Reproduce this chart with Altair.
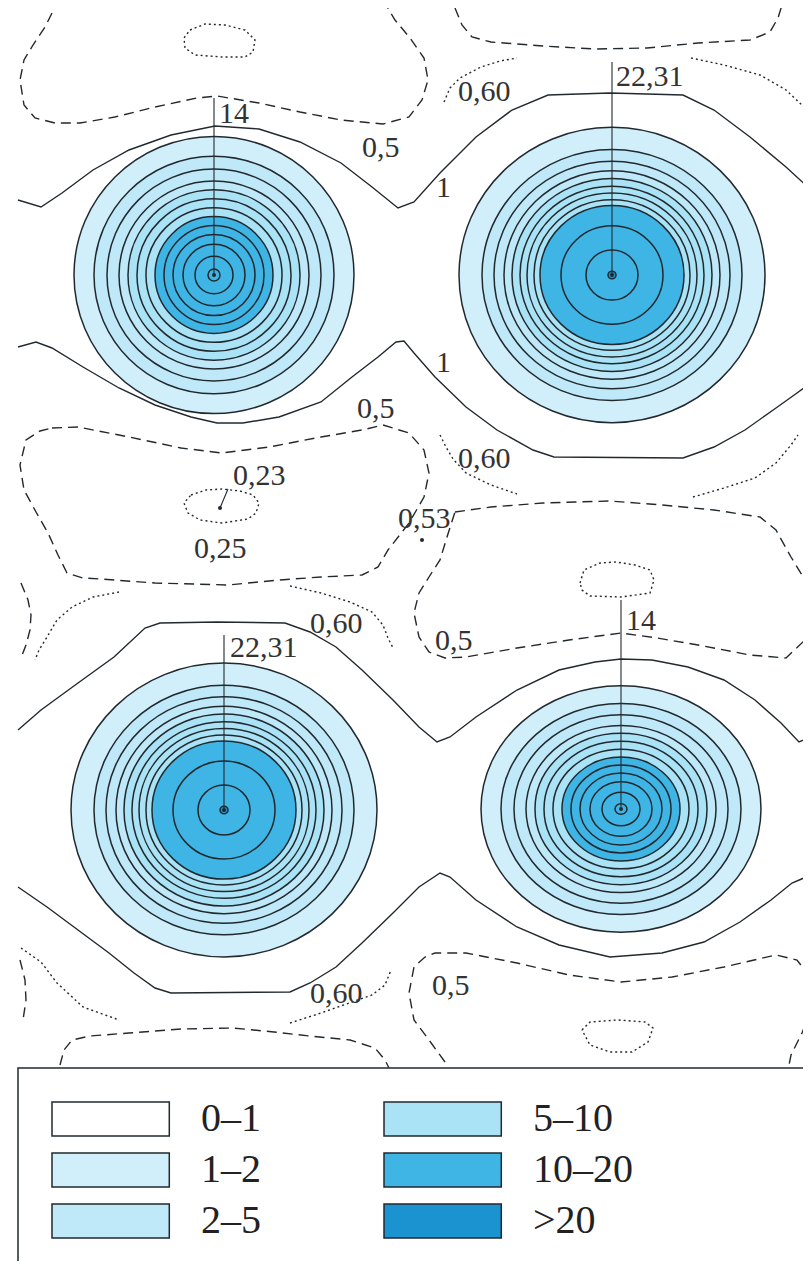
import altair as alt
import pandas as pd

# ---------------- data (picture-pixel units) ----------------
atom_x = [214, 612, 224, 621]
atom_y = [275, 275, 810, 809]
atom_kind = ["14", "22", "22", "14"]
atom_label = ["14", "22,31", "22,31", "14"]
atom_aspect = [0.99, 0.965, 0.96, 0.88]          # vertical / horizontal radius
atom_label_x = [219, 616, 230, 626]
atom_label_y = [123, 86, 657, 630]
atom_leader_top = [98, 62, 635, 600]

rings_14 = [140, 120, 107, 95, 86, 77, 68, 59, 50, 41, 31, 19, 6]
rings_22 = [153, 130, 118, 108, 100, 92, 85, 78, 72, 51, 26, 4]
bands_14 = [("1–2", 140), ("2–5", 120), ("5–10", 86), ("10–20", 59)]
bands_22 = [("1–2", 153), ("2–5", 130), ("5–10", 100), ("10–20", 72), (">20", 4)]

legend_domain = ["0–1", "1–2", "2–5", "5–10", "10–20", ">20"]
legend_colors = ["#ffffff", "#d0effa", "#bfe9f8", "#aae2f6", "#3fb5e6", "#1b93d0"]

solid_lines = {
    "r1top": [(18, 200), (41, 207), (62, 193), (93, 170), (129, 150), (171, 135), (215, 126), (259, 129),
              (300, 142), (341, 163), (372, 187), (398, 208), (414, 202), (440, 173), (476, 137), (512, 110),
              (548, 95), (610, 93), (683, 95), (714, 110), (750, 137), (786, 167), (811, 190)],
    "r1bot": [(18, 347), (36, 342), (52, 348), (83, 367), (119, 388), (155, 405), (191, 417), (217, 423),
              (243, 423), (279, 417), (321, 402), (352, 377), (378, 357), (396, 342), (404, 341), (414, 353),
              (435, 377), (466, 407), (497, 430), (533, 450), (554, 457), (683, 458), (714, 447), (745, 430),
              (776, 408), (797, 393), (811, 383)],
    "r2top": [(18, 730), (41, 710), (78, 683), (114, 657), (145, 628), (160, 623), (217, 622), (285, 623),
              (310, 632), (336, 647), (362, 670), (393, 700), (419, 727), (437, 742), (450, 737), (476, 717),
              (517, 690), (559, 670), (595, 662), (621, 659), (652, 660), (688, 667), (724, 680), (755, 700),
              (781, 723), (799, 742), (811, 737)],
    "r2bot": [(18, 887), (47, 907), (78, 930), (109, 953), (134, 973), (155, 988), (171, 993), (290, 992),
              (310, 983), (336, 967), (362, 943), (393, 913), (419, 887), (440, 873), (450, 877), (476, 900),
              (517, 927), (559, 945), (610, 957), (662, 953), (704, 942), (740, 922), (771, 900), (792, 883),
              (811, 875)],
}

dashed_lines = {
    "d1": [(52, 13), (45, 27), (33, 45), (24, 60), (20, 80), (24, 105), (35, 118), (55, 123), (80, 123),
           (115, 117), (155, 107), (197, 98), (217, 96), (259, 103), (300, 112), (341, 120), (383, 124),
           (409, 117), (422, 100), (428, 80), (424, 58), (410, 38), (395, 20), (386, 5)],
    "d2": [(455, 8), (462, 25), (472, 37), (491, 42), (543, 46), (595, 49), (647, 48), (698, 43), (750, 40),
           (770, 32), (778, 18), (782, 5)],
    "d3": [(52, 428), (78, 427), (129, 437), (181, 448), (222, 453), (269, 447), (321, 437), (362, 430),
           (383, 425), (409, 433), (424, 450), (429, 473), (424, 497), (409, 523), (388, 550), (378, 567),
           (362, 575), (321, 577), (279, 580), (228, 585), (155, 583), (100, 579), (83, 578), (67, 573),
           (58, 555), (48, 533), (36, 512), (24, 490), (20, 465), (26, 440), (40, 431), (52, 428)],
    "d4": [(455, 512), (491, 507), (543, 503), (610, 501), (662, 505), (714, 510), (760, 517), (776, 530),
           (791, 557), (805, 580), (811, 610), (805, 640), (786, 658), (750, 655), (698, 645), (657, 638),
           (621, 633), (569, 640), (517, 648), (466, 657), (445, 658), (429, 652), (419, 637), (414, 613),
           (419, 593), (429, 577), (440, 560), (447, 537), (455, 512)],
    "d5": [(21, 583), (28, 600), (31, 615), (30, 630), (26, 645), (21, 658)],
    "d6": [(60, 1065), (64, 1050), (72, 1040), (90, 1036), (129, 1033), (181, 1029), (233, 1028), (274, 1032),
           (310, 1036), (350, 1040), (375, 1048), (385, 1060), (390, 1070)],
    "d6b": [(20, 960), (25, 980), (26, 1000), (23, 1020)],
    "d7": [(445, 1062), (429, 1040), (414, 1020), (409, 993), (414, 967), (425, 957), (435, 953), (466, 953),
           (517, 963), (569, 975), (621, 982), (672, 977), (724, 967), (776, 955), (797, 960), (807, 973)],
    "d7b": [(811, 1010), (802, 1033), (791, 1055), (788, 1070)],
}

dotted_lines = {
    "p1": [(190, 30), (205, 24), (225, 25), (245, 30), (255, 40), (253, 52), (245, 57), (222, 57), (195, 55),
           (185, 48), (184, 38), (190, 30)],
    "p2": [(444, 102), (450, 88), (460, 78), (481, 67), (500, 61), (517, 58)],
    "p3": [(691, 58), (724, 65), (760, 75), (786, 90), (804, 107), (811, 125)],
    "p4": [(440, 435), (446, 447), (453, 459), (466, 473), (491, 485), (517, 494)],
    "p5": [(693, 497), (724, 488), (755, 478), (776, 463), (791, 445), (798, 435)],
    "p5b": [(811, 440), (806, 455), (805, 475), (809, 495)],
    "p6": [(191, 495), (206, 490), (222, 489), (240, 491), (253, 495), (259, 503), (256, 513), (248, 519),
           (222, 523), (200, 520), (188, 513), (184, 503), (191, 495)],
    "p7": [(580, 583), (584, 570), (600, 563), (616, 562), (635, 565), (650, 570), (654, 580), (650, 593),
           (621, 597), (590, 596), (582, 590), (580, 583)],
    "p8": [(119, 592), (93, 597), (72, 607), (57, 620), (47, 637), (39, 650), (35, 660)],
    "p9": [(290, 586), (321, 593), (350, 602), (372, 612), (383, 625), (388, 638), (393, 648)],
    "p10": [(21, 948), (41, 962), (57, 983), (83, 1007), (119, 1020)],
    "p10b": [(290, 1023), (321, 1013), (352, 1002), (372, 995), (385, 985), (391, 970)],
    "p11": [(582, 1030), (590, 1022), (618, 1020), (645, 1022), (653, 1028), (648, 1042), (632, 1052),
            (610, 1052), (590, 1045), (582, 1030)],
}

map_labels = ["0,60", "0,5", "1", "1", "0,5", "0,60", "0,23", "0,25", "0,53", "0,60", "0,5", "0,60", "0,5"]
map_label_x = [458, 362, 436, 436, 357, 458, 233, 194, 398, 310, 435, 310, 432]
map_label_y = [101, 157, 197, 372, 418, 468, 485, 558, 528, 633, 650, 1003, 995]

point_x = [220, 422]
point_y = [508, 540]
leader_023 = [(220, 508), (228, 489)]

legend_panel = {"x": 18, "x2": 840, "y": 1068, "y2": 1300}

# ---------------- tables ----------------
def ellipse_path(a):
    return f"M-1,0A1,{a},0,1,0,1,0A1,{a},0,1,0,-1,0Z"

fill_rows, ring_rows, atom_rows = [], [], []
for k in range(4):
    rings = rings_14 if atom_kind[k] == "14" else rings_22
    bands = bands_14 if atom_kind[k] == "14" else bands_22
    shp = ellipse_path(atom_aspect[k])
    for j, (band, r) in enumerate(bands):
        fill_rows.append(dict(x=atom_x[k], y=atom_y[k], r=r, band=band, shape=shp, o=k * 10 + j))
    for r in rings:
        ring_rows.append(dict(x=atom_x[k], y=atom_y[k], r=r, shape=shp))
    atom_rows.append(dict(x=atom_x[k], y=atom_y[k], top=atom_leader_top[k], label=atom_label[k],
                          lx=atom_label_x[k], ly=atom_label_y[k]))
fills = pd.DataFrame(fill_rows)
ringdf = pd.DataFrame(ring_rows)
atoms = pd.DataFrame(atom_rows)

def lines_df(d, style):
    rows = []
    for name, pts in d.items():
        for i, (x, y) in enumerate(pts):
            rows.append(dict(id=name, i=i, x=x, y=y, style=style))
    return pd.DataFrame(rows)

solid_df = lines_df(solid_lines, "solid")
dash_df = lines_df(dashed_lines, "dash")
dot_df = lines_df(dotted_lines, "dot")
labels_df = pd.DataFrame(dict(text=map_labels + atom_label, x=map_label_x + atom_label_x,
                              y=map_label_y + atom_label_y))
points_df = pd.DataFrame(dict(x=point_x, y=point_y))
leader_df = pd.DataFrame(dict(x=[leader_023[0][0]], y=[leader_023[0][1]],
                              x2=[leader_023[1][0]], y2=[leader_023[1][1]]))
panel_df = pd.DataFrame([legend_panel])

# ---------------- scales ----------------
W, H = 795, 1253
xs = alt.Scale(domain=[8, 8 + W], nice=False, zero=False)
ys = alt.Scale(domain=[8, 8 + H], nice=False, zero=False, reverse=True)
X = lambda f="x": alt.X(f"{f}:Q", scale=xs, axis=None)
Y = lambda f="y": alt.Y(f"{f}:Q", scale=ys, axis=None)
INK = "#22292e"
FONT = "'Liberation Serif', 'Times New Roman', Tinos, 'DejaVu Serif', 'Noto Serif', serif"

fill_layer = alt.Chart(fills).transform_calculate(sz="pow(2*datum.r, 2)").mark_point(
    filled=True, opacity=1, strokeOpacity=0, clip=True
).encode(
    x=X(), y=Y(),
    size=alt.Size("sz:Q", scale=None),
    shape=alt.Shape("shape:N", scale=None),
    order=alt.Order("o:Q"),
    fill=alt.Fill("band:N", scale=alt.Scale(domain=legend_domain, range=legend_colors),
                  legend=alt.Legend(title=None, orient="none", legendX=41, legendY=1091, columns=2,
                                    symbolType="M-1,-1H5.9V1H-1Z", symbolSize=1156,
                                    symbolStrokeColor=INK, symbolStrokeWidth=1.5, symbolOpacity=1,
                                    labelFont=FONT, labelFontSize=40, labelColor="#222",
                                    labelOffset=112, rowPadding=11, columnPadding=120, padding=0,
                                    labelLimit=300)),
)

ring_layer = alt.Chart(ringdf).transform_calculate(sz="pow(2*datum.r, 2)").mark_point(
    filled=False, stroke=INK, strokeWidth=1.5, opacity=1, clip=True
).encode(x=X(), y=Y(), size=alt.Size("sz:Q", scale=None), shape=alt.Shape("shape:N", scale=None))

center_dots = alt.Chart(atoms).mark_circle(size=16, color=INK, opacity=1).encode(x=X(), y=Y())
leaders = alt.Chart(atoms).mark_rule(color=INK, strokeWidth=1.1).encode(x=X(), y=Y(), y2="top:Q")

def line_layer(df, dash):
    kw = dict(color=INK, strokeWidth=1.4, clip=True)
    if dash:
        kw["strokeDash"] = dash
    return alt.Chart(df).mark_line(**kw).encode(x=X(), y=Y(), detail="id:N", order="i:Q")

solid_layer = line_layer(solid_df, None)
dash_layer = line_layer(dash_df, [10, 6])
dot_layer = line_layer(dot_df, [2, 3])

pts_layer = alt.Chart(points_df).mark_circle(size=16, color=INK, opacity=1).encode(x=X(), y=Y())
leader23 = alt.Chart(leader_df).mark_rule(color=INK, strokeWidth=1.1).encode(x=X(), y=Y(), x2="x2:Q", y2="y2:Q")

text_layer = alt.Chart(labels_df).mark_text(
    align="left", baseline="alphabetic", font=FONT, fontSize=30, color="#333"
).encode(x=X(), y=Y(), text="text:N")

panel = alt.Chart(panel_df).mark_rect(fill="white", stroke=INK, strokeWidth=1.5, clip=True).encode(
    x=X(), x2="x2:Q", y=Y(), y2="y2:Q")

chart = alt.layer(
    fill_layer, ring_layer, leaders, center_dots, solid_layer, dash_layer, dot_layer,
    pts_layer, leader23, text_layer, panel
).properties(
    width=W, height=H, autosize=alt.AutoSizeParams(type="none"), padding=0, background="white"
).configure_view(stroke=None)

chart.save("out.html", embed_options={"renderer": "svg", "actions": False})
